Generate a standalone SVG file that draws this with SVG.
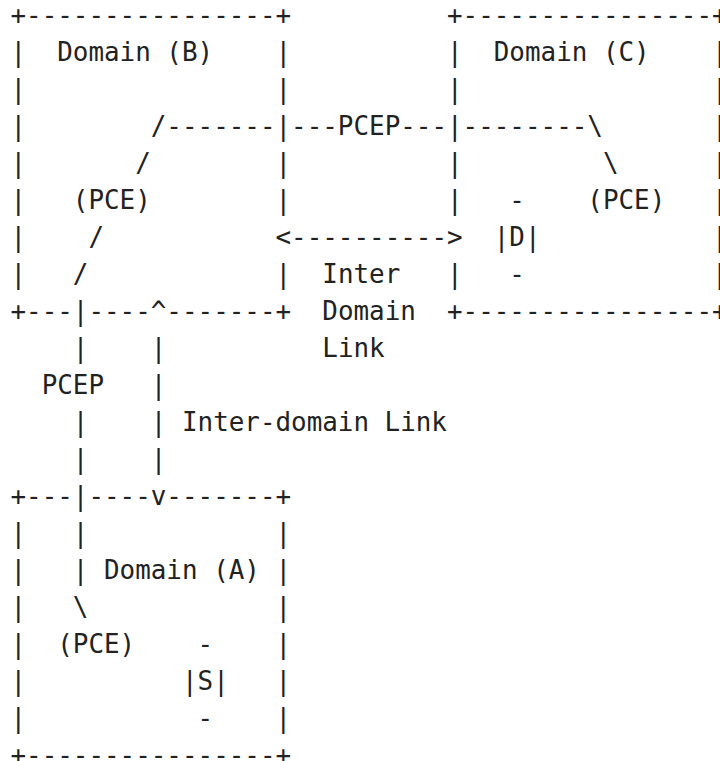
<svg xmlns="http://www.w3.org/2000/svg" width="720" height="761" viewBox="0 0 720 761">
<style>
text { font-family: "DejaVu Sans Mono", "Liberation Mono", monospace; font-size: 25.9px; fill: #222222; white-space: pre; }
</style>
<rect width="720" height="761" fill="#ffffff"/>
<g id="domain-b" xml:space="preserve">
<text x="10.5" y="24">+----------------+</text>
<text x="10.5" y="61">|  Domain (B)    |</text>
<text x="10.5" y="98">|                |</text>
<text x="10.5" y="135">|        /-------|</text>
<text x="10.5" y="172">|       /        |</text>
<text x="10.5" y="209">|   (PCE)        |</text>
<text x="10.5" y="246">|    /</text>
<text x="10.5" y="283">|   /            |</text>
<text x="10.5" y="320">+---|----^-------+</text>
</g>
<g id="domain-c" xml:space="preserve">
<text x="447.02" y="24">+----------------+</text>
<text x="447.02" y="61">|  Domain (C)    |</text>
<text x="447.02" y="98">|                |</text>
<text x="447.02" y="135">|--------\       |</text>
<text x="447.02" y="172">|         \      |</text>
<text x="447.02" y="209">|   -    (PCE)   |</text>
<text x="462.61" y="246">  |D|           |</text>
<text x="447.02" y="283">|   -            |</text>
<text x="447.02" y="320">+----------------+</text>
</g>
<g id="connectors" xml:space="preserve">
<text x="291.12" y="135">---PCEP---</text>
<text x="275.53" y="246">&lt;----------&gt;</text>
<text x="322.3" y="283">Inter</text>
<text x="322.3" y="320">Domain</text>
<text x="322.3" y="357">Link</text>
<text x="10.5" y="357">    |    |</text>
<text x="10.5" y="394">  PCEP   |</text>
<text x="10.5" y="431">    |    | Inter-domain Link</text>
<text x="10.5" y="468">    |    |</text>
</g>
<g id="domain-a" xml:space="preserve">
<text x="10.5" y="505">+---|----v-------+</text>
<text x="10.5" y="542">|   |            |</text>
<text x="10.5" y="579">|   | Domain (A) |</text>
<text x="10.5" y="616">|   \            |</text>
<text x="10.5" y="653">|  (PCE)    -    |</text>
<text x="10.5" y="690">|          |S|   |</text>
<text x="10.5" y="727">|           -    |</text>
<text x="10.5" y="764">+----------------+</text>
</g>
</svg>
